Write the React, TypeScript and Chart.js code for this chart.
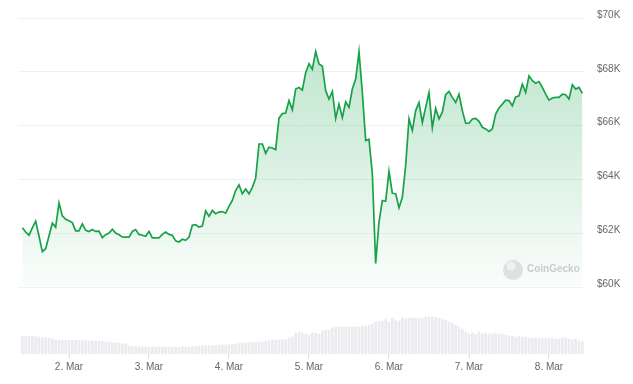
import React, { useEffect, useRef } from "react";
import { Chart, registerables } from "chart.js";

Chart.register(...registerables);

// Hours since 1 Mar 00:00 (hourly data, first point at 10:00 on 1 Mar)
const START_HOUR = 10;

// BTC price (USD), hourly
const prices = [
  62210, 62050, 61930, 62200, 62450, 61900, 61320, 61430, 61900, 62380,
  62230, 63130, 62650, 62520, 62470, 62400, 62090, 62090, 62350, 62110,
  62070, 62140, 62070, 62080, 61840, 61950, 62010, 62150, 62010, 61950,
  61870, 61860, 61860, 62070, 62140, 61960, 61930, 61890, 62070, 61830,
  61830, 61830, 61960, 62050, 61960, 61930, 61720, 61680, 61780, 61740,
  61860, 62300, 62320, 62230, 62270, 62840, 62630, 62850, 62730, 62790,
  62810, 62750, 63000, 63220, 63590, 63800, 63470, 63650, 63470, 63710,
  64050, 65320, 65320, 64970, 65200, 65170, 65110, 66280, 66450, 66470,
  66930, 66590, 67360, 67420, 67320, 67970, 68300, 68100, 68750, 68290,
  68210, 67300, 66990, 67270, 66270, 66800, 66300, 66890, 66680, 67360,
  67730, 68750, 67230, 65450, 65500, 64210, 60880, 62420, 63220, 63190,
  64300, 63490, 63470, 62950, 63340, 64520, 66250, 65820, 66560, 66860,
  66120, 66680, 67230, 65920, 66640, 66250, 66500, 67150, 67270, 67050,
  66860, 67170, 66560, 66090, 66090, 66250, 66270, 66160, 65940, 65880,
  65790, 65880, 66430, 66660, 66800, 66950, 66930, 66740, 67070, 67110,
  67540, 67230, 67850, 67670, 67580, 67640, 67420, 67170, 66950, 67030,
  67050, 67050, 67170, 67150, 66990, 67520, 67360, 67420, 67200,
];

// 24h trading volume (USD billions), hourly
const volumes = [
  36, 36, 35, 36, 35, 34,
  33, 32, 32, 31,
  28, 28, 27, 27, 27, 27, 27, 27, 27, 27, 26, 26, 26, 26, 25, 24, 24, 23,
  22, 22, 20, 21,
  16, 15, 15, 15, 14, 15, 14, 14, 14, 14, 14, 14, 14, 13, 14, 13, 15, 14, 14, 15, 15, 16,
  16, 17, 17, 17, 17, 18, 18, 18, 19, 19,
  20, 21, 22, 22, 23, 23, 23, 24, 24,
  26, 27, 28, 28, 28, 29, 29,
  32, 34, 42, 44, 42, 40, 38, 42, 42, 40,
  46, 48, 48,
  52, 54, 54, 54, 54, 54, 54, 54, 55, 56, 56,
  58, 60, 64, 66,
  66, 70, 64, 72, 68, 66, 72, 70,
  72, 72, 72, 72, 72, 74, 74, 74, 74,
  72, 70, 68,
  64, 62, 58,
  54, 50,
  44,
  40, 42, 40, 44, 40, 42, 40, 40, 42, 40, 40, 38,
  36, 36, 34, 36, 34, 34,
  32, 32, 32, 32, 32, 32, 32, 32, 30, 30, 32, 32, 30,
  28, 30, 26, 24,
];

// X tick positions (hours) and labels
const dayTickHours = [24, 48, 72, 96, 120, 144, 168];
const dayTickLabels = ["2. Mar", "3. Mar", "4. Mar", "5. Mar", "6. Mar", "7. Mar", "8. Mar"];

// Price axis ticks
const priceTicks = [60000, 62000, 64000, 66000, 68000, 70000];

const FONT = "'Liberation Sans', Arial, sans-serif";
const LINE_COLOR = "#17a24a";

const watermark = {
  id: "watermark",
  afterDatasetsDraw(chart: any) {
    const ctx = chart.ctx;
    ctx.save();
    ctx.fillStyle = "rgba(200,200,200,0.5)";
    ctx.beginPath();
    ctx.arc(513, 270, 10, 0, Math.PI * 2);
    ctx.fill();
    ctx.fillStyle = "rgba(255,255,255,0.55)";
    ctx.beginPath();
    ctx.arc(511, 266, 4.5, 0, Math.PI * 2);
    ctx.fill();
    ctx.fillStyle = "rgba(195,195,195,0.85)";
    ctx.font = `bold 10px ${FONT}`;
    ctx.textBaseline = "middle";
    ctx.textAlign = "left";
    ctx.fillText("CoinGecko", 527, 269.5);
    ctx.restore();
  },
};

export default function App() {
  const canvasRef = useRef<HTMLCanvasElement | null>(null);

  useEffect(() => {
    const canvas = canvasRef.current;
    if (!canvas) return;
    const priceData = prices.map((p, i) => ({ x: START_HOUR + i, y: p }));
    const volData = volumes.map((v, i) => ({ x: START_HOUR + i, y: v }));

    const chart = new Chart(canvas, {
      type: "line",
      data: {
        datasets: [
          {
            type: "line",
            data: priceData,
            yAxisID: "y",
            borderColor: LINE_COLOR,
            borderWidth: 1.7,
            pointRadius: 0,
            tension: 0,
            order: 1,
            fill: { value: 60000 },
            backgroundColor: (ctx: any) => {
              const c = ctx.chart;
              const area = c.chartArea;
              if (!area) return "rgba(22,163,74,0.15)";
              const ys = c.scales.y;
              const top = ys.getPixelForValue(70000);
              const bottom = ys.getPixelForValue(60000);
              const g = c.ctx.createLinearGradient(0, top, 0, bottom);
              g.addColorStop(0, "rgba(22,163,74,0.30)");
              g.addColorStop(0.5, "rgba(22,163,74,0.17)");
              g.addColorStop(1, "rgba(22,163,74,0.02)");
              return g;
            },
          } as any,
          {
            type: "bar",
            data: volData,
            yAxisID: "v",
            backgroundColor: "#ebebef",
            barThickness: 2,
            order: 2,
          } as any,
        ],
      },
      options: {
        animation: false,
        responsive: false,
        events: [],
        layout: { padding: { left: 18, top: 17, right: 0, bottom: 0 } },
        plugins: { legend: { display: false }, tooltip: { enabled: false } },
        scales: {
          x: {
            type: "linear",
            min: 8.7,
            max: 178.8,
            offset: false,
            border: { display: false },
            grid: {
              offset: false,
              drawOnChartArea: false,
              drawTicks: true,
              tickLength: 5,
              color: "#dedede",
            },
            ticks: {
              font: { size: 10, family: FONT },
              color: "#666666",
              padding: 2,
              maxRotation: 0,
              autoSkip: false,
              callback: (v: any) => {
                const i = dayTickHours.indexOf(Number(v));
                return i >= 0 ? dayTickLabels[i] : "";
              },
            },
            afterBuildTicks: (s: any) => {
              s.ticks = dayTickHours.map((h) => ({ value: h }));
            },
            afterFit: (s: any) => {
              s.height = 30;
            },
          },
          y: {
            position: "right",
            min: 57518,
            max: 70000,
            border: { display: false },
            grid: { color: "#f1f1f1", drawTicks: false, lineWidth: 1 },
            ticks: {
              font: { size: 10, family: FONT },
              color: "#666666",
              padding: 12,
              labelOffset: -3,
              callback: (v: any) => "$" + Number(v) / 1000 + "K",
            },
            afterBuildTicks: (s: any) => {
              s.ticks = priceTicks.map((p) => ({ value: p }));
            },
            afterFit: (s: any) => {
              s.width = 48;
            },
          },
          v: {
            display: false,
            min: 0,
            max: 674,
          },
        },
      },
      plugins: [watermark],
    });
    return () => chart.destroy();
  }, []);

  return (
    <div style={{ position: "absolute", left: 0, top: 0, width: 633, height: 384, background: "#fff" }}>
      <canvas ref={canvasRef} width={633} height={384} style={{ display: "block" }} />
    </div>
  );
}
